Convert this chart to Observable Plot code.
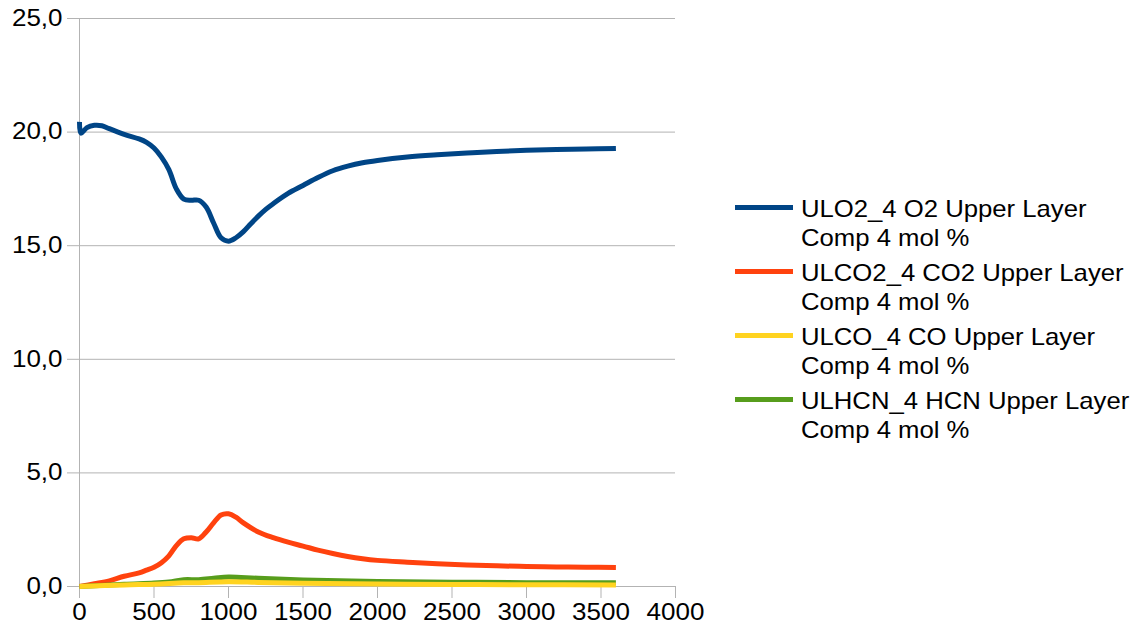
<!DOCTYPE html>
<html>
<head>
<meta charset="utf-8">
<script src="https://cdn.jsdelivr.net/npm/d3@7"></script>
<script src="https://cdn.jsdelivr.net/npm/@observablehq/plot@0.6"></script>
<style>
  html, body { margin: 0; padding: 0; background: #fff; }
  #wrap { position: relative; width: 1134px; height: 637px; font-family: "Liberation Sans", Arial, sans-serif; }
  #legend { position: absolute; left: 735px; top: 194px; font-size: 24px; color: #000; line-height: 29px; }
  .item { display: flex; align-items: flex-start; margin-bottom: 6px; }
  .sw { width: 58px; height: 5px; margin-top: 11px; margin-right: 8px; flex: none; }
  .txt { transform: scaleX(1.07); transform-origin: left top; white-space: nowrap; }
</style>
</head>
<body>
<div id="wrap"><div id="legend"></div></div>
<script>
const seriesNames = [
  "ULO2_4 O2 Upper Layer Comp 4 mol %",
  "ULCO2_4 CO2 Upper Layer Comp 4 mol %",
  "ULCO_4 CO Upper Layer Comp 4 mol %",
  "ULHCN_4 HCN Upper Layer Comp 4 mol %"
];
const legendLines = [
  ["ULO2_4 O2 Upper Layer", "Comp 4 mol %"],
  ["ULCO2_4 CO2 Upper Layer", "Comp 4 mol %"],
  ["ULCO_4 CO Upper Layer", "Comp 4 mol %"],
  ["ULHCN_4 HCN Upper Layer", "Comp 4 mol %"]
];
const colors = ["#004586", "#ff420e", "#ffd320", "#579d1c"];

const o2Time = [0,10,50,100,150,200,300,400,450,500,550,600,650,700,750,800,850,900,950,1000,1050,1100,1150,1200,1250,1300,1400,1500,1600,1700,1800,1900,2000,2200,2400,2600,2800,3000,3200,3400,3600];
const o2Vals = [20.45,19.95,20.2,20.3,20.28,20.15,19.9,19.7,19.55,19.3,18.9,18.35,17.5,17.05,17.0,17.0,16.7,16.0,15.35,15.2,15.35,15.62,15.97,16.3,16.6,16.85,17.3,17.65,18.0,18.3,18.5,18.65,18.75,18.9,19.0,19.08,19.15,19.2,19.23,19.26,19.28];

const co2Time = [0,100,200,300,400,450,500,550,600,650,700,750,800,850,900,950,1000,1050,1100,1200,1300,1400,1500,1600,1700,1800,1900,2000,2200,2400,2600,2800,3000,3200,3400,3600];
const co2Vals = [0.0,0.12,0.25,0.45,0.6,0.72,0.85,1.05,1.35,1.8,2.1,2.15,2.1,2.4,2.8,3.15,3.2,3.05,2.8,2.4,2.15,1.95,1.78,1.6,1.45,1.32,1.22,1.15,1.07,1.0,0.95,0.91,0.88,0.86,0.85,0.84];

const coTime = [0,300,500,700,800,1000,1200,1500,2000,2500,3000,3600];
const coVals = [0.0,0.07,0.1,0.16,0.17,0.21,0.18,0.14,0.11,0.09,0.08,0.07];

const hcnTime = [0,300,500,600,700,800,900,1000,1200,1500,2000,2500,3000,3600];
const hcnVals = [0.0,0.1,0.15,0.2,0.3,0.3,0.36,0.42,0.36,0.29,0.22,0.19,0.17,0.16];

const xTicks = [0,500,1000,1500,2000,2500,3000,3500,4000];
const yTicks = [0,5,10,15,20,25];

const rows = (t, v, s) => t.map((x, i) => ({t: x, v: v[i], s}));
const data = [
  ...rows(o2Time, o2Vals, seriesNames[0]),
  ...rows(co2Time, co2Vals, seriesNames[1]),
  ...rows(hcnTime, hcnVals, seriesNames[3]),
  ...rows(coTime, coVals, seriesNames[2])
];
const drawOrder = [seriesNames[0], seriesNames[1], seriesNames[3], seriesNames[2]];

const fmtY = d => d3.format(".1f")(d).replace(".", ",");

const chart = Plot.plot({
  width: 1134,
  height: 637,
  marginLeft: 79,
  marginRight: 459,
  marginTop: 18,
  marginBottom: 51,
  style: {fontFamily: "Liberation Sans, Arial, sans-serif", fontSize: "23px", background: "#fff", color: "#000"},
  x: {domain: [0, 4000]},
  y: {domain: [0, 25]},
  color: {domain: seriesNames, range: colors},
  marks: [
    Plot.gridY(yTicks, {stroke: "#b3b3b3", strokeOpacity: 1}),
    Plot.ruleX([0], {stroke: "#b3b3b3"}),
    Plot.axisY(yTicks, {tickSize: 12, tickPadding: 5, stroke: "#b3b3b3", fill: "#000", tickFormat: fmtY, label: null, fontSize: 23}),
    Plot.axisX(xTicks, {tickSize: 12, tickPadding: 5, stroke: "#b3b3b3", fill: "#000", tickFormat: d => String(d), label: null, fontSize: 23}),
    ...drawOrder.map(name => Plot.line(data.filter(d => d.s === name), {
      x: "t", y: "v", stroke: "s", strokeWidth: 5, curve: "catmull-rom", strokeLinejoin: "round", strokeLinecap: "butt"
    }))
  ]
});
document.getElementById("wrap").prepend(chart);

// slight horizontal stretch of tick labels to match the reference glyph widths
chart.querySelectorAll("[aria-label='y-axis tick label'] text, [aria-label='x-axis tick label'] text").forEach(t => {
  const len = t.getComputedTextLength();
  t.setAttribute("textLength", (len * 1.13).toFixed(2));
  t.setAttribute("lengthAdjust", "spacingAndGlyphs");
});

const legend = document.getElementById("legend");
legendLines.forEach((lines, i) => {
  const item = document.createElement("div");
  item.className = "item";
  const sw = document.createElement("div");
  sw.className = "sw";
  sw.style.background = colors[i];
  const txt = document.createElement("div");
  txt.className = "txt";
  txt.innerHTML = lines.join("<br>");
  item.appendChild(sw);
  item.appendChild(txt);
  legend.appendChild(item);
});
</script>
</body>
</html>
